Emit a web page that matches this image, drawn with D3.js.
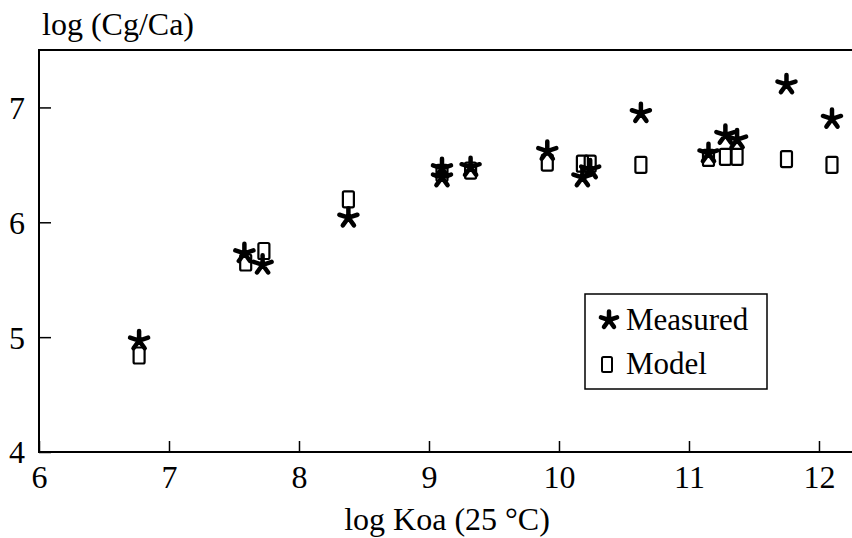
<!DOCTYPE html>
<html>
<head>
<meta charset="UTF-8">
<title>log (Cg/Ca) vs log Koa</title>
<script src="https://cdn.jsdelivr.net/npm/d3@7"></script>
<style>
  body { margin: 0; background: #fff; }
  text { font-family: "Liberation Serif", "Times New Roman", serif; fill: #000; }
</style>
</head>
<body>
<svg width="852" height="538"></svg>
<script>
// measured points (log Koa, log Cg/Ca)
var measuredX = [6.77, 7.58, 7.72, 8.38, 9.10, 9.10, 9.32, 9.91, 10.18, 10.24, 10.63, 11.15, 11.28, 11.37, 11.75, 12.10];
var measuredY = [4.97, 5.73, 5.63, 6.04, 6.47, 6.39, 6.48, 6.62, 6.39, 6.46, 6.95, 6.60, 6.76, 6.72, 7.20, 6.90];
// model points
var modelX = [6.77, 7.59, 7.73, 8.38, 9.10, 9.32, 9.91, 10.18, 10.24, 10.63, 11.15, 11.28, 11.37, 11.75, 12.10];
var modelY = [4.84, 5.65, 5.75, 6.20, 6.43, 6.45, 6.52, 6.51, 6.51, 6.50, 6.56, 6.57, 6.57, 6.55, 6.50];
var xTicks = [6, 7, 8, 9, 10, 11, 12];
var yTicks = [4, 5, 6, 7];
var legendLabels = ["Measured", "Model"];

var svg = d3.select("svg");
var mLeft = 39, mRight = 852, mTop = 50, mBottom = 452;

var x = d3.scaleLinear().domain([6, 12.254]).range([mLeft, mRight]);
var y = d3.scaleLinear().domain([4, 7.5]).range([mBottom, mTop]);

// frame: top, left and bottom lines (no right edge)
svg.append("path")
    .attr("d", "M" + mRight + "," + mTop + "H" + mLeft + "V" + mBottom + "H" + mRight)
    .attr("fill", "none")
    .attr("stroke", "#000")
    .attr("stroke-width", 2);

// axes with inward ticks
var xAxis = svg.append("g")
    .attr("transform", "translate(0," + mBottom + ")")
    .call(d3.axisBottom(x).tickValues(xTicks).tickSize(-11).tickPadding(14).tickFormat(d3.format("d")));
var yAxis = svg.append("g")
    .attr("transform", "translate(" + mLeft + ",0)")
    .call(d3.axisLeft(y).tickValues(yTicks).tickSize(-12).tickPadding(14).tickFormat(d3.format("d")));

[xAxis, yAxis].forEach(function (g) {
    g.select(".domain").remove();
    g.selectAll(".tick line").attr("stroke", "#000").attr("stroke-width", 1.5);
    g.selectAll(".tick text")
        .attr("font-family", "Liberation Serif, serif")
        .attr("font-size", 32)
        .attr("fill", "#000");
});
xAxis.selectAll(".tick text").attr("dy", "0.71em").attr("y", 13);
yAxis.selectAll(".tick text").attr("dy", "0.34em");

// axis titles
svg.append("text")
    .attr("x", 42).attr("y", 35)
    .attr("font-size", 32)
    .text("log (Cg/Ca)");
svg.append("text")
    .attr("x", 447).attr("y", 530)
    .attr("text-anchor", "middle")
    .attr("font-size", 32)
    .text("log Koa (25 °C)");

// five-armed asterisk
function starPath(r) {
    var p = d3.path();
    for (var k = 0; k < 5; k++) {
        var a = -Math.PI / 2 + k * 2 * Math.PI / 5;
        p.moveTo(0, 0);
        p.lineTo(r * Math.cos(a), r * Math.sin(a));
    }
    return p.toString();
}

var measured = measuredX.map(function (v, i) { return { x: v, y: measuredY[i] }; });
var model = modelX.map(function (v, i) { return { x: v, y: modelY[i] }; });

svg.append("g").selectAll("path")
    .data(measured)
    .enter()
    .append("path")
    .attr("d", starPath(9.5))
    .attr("transform", function (d) { return "translate(" + x(d.x) + "," + y(d.y) + ")"; })
    .attr("stroke", "#000")
    .attr("stroke-width", 4.5)
    .attr("stroke-linecap", "round")
    .attr("fill", "none");

svg.append("g").selectAll("rect")
    .data(model)
    .enter()
    .append("rect")
    .attr("x", function (d) { return x(d.x) - 5.5; })
    .attr("y", function (d) { return y(d.y) - 8; })
    .attr("width", 11)
    .attr("height", 16)
    .attr("rx", 1.5)
    .attr("fill", "none")
    .attr("stroke", "#000")
    .attr("stroke-width", 2.2);

// legend
var lg = svg.append("g");
lg.append("rect")
    .attr("x", 585).attr("y", 294)
    .attr("width", 182).attr("height", 95)
    .attr("fill", "#fff")
    .attr("stroke", "#000")
    .attr("stroke-width", 1.5);
lg.append("path")
    .attr("d", starPath(8.5))
    .attr("transform", "translate(609,320)")
    .attr("stroke", "#000")
    .attr("stroke-width", 4.5)
    .attr("stroke-linecap", "round")
    .attr("fill", "none");
lg.append("rect")
    .attr("x", 602).attr("y", 357)
    .attr("width", 10).attr("height", 15)
    .attr("rx", 1.5)
    .attr("fill", "none")
    .attr("stroke", "#000")
    .attr("stroke-width", 2);
lg.selectAll("text.lab")
    .data(legendLabels)
    .enter()
    .append("text")
    .attr("class", "lab")
    .attr("x", 626)
    .attr("y", function (d, i) { return 330 + i * 44; })
    .attr("font-size", 31)
    .text(function (d) { return d; });
</script>
</body>
</html>
